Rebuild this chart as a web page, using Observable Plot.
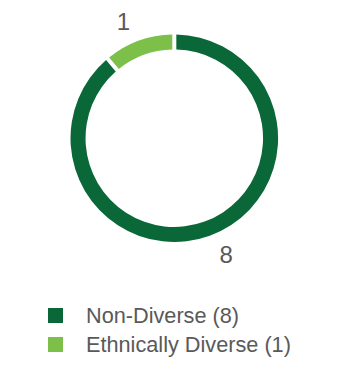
<!DOCTYPE html>
<html>
<head>
<meta charset="utf-8">
<script src="https://cdn.jsdelivr.net/npm/d3@7"></script>
<script src="https://cdn.jsdelivr.net/npm/@observablehq/plot@0.6"></script>
<style>
  html, body { margin: 0; padding: 0; background: #fff; }
  #wrap { position: relative; width: 346px; height: 380px; font-family: "Liberation Sans", Arial, sans-serif; }
  #chart { position: absolute; left: 0; top: 0; }
  .legend { position: absolute; left: 48px; top: 308px; }
  .item { display: flex; align-items: center; height: 15px; margin-bottom: 14px; }
  .sw { width: 15px; height: 15px; margin-right: 23px; flex: none; }
  .lab { font-size: 21.7px; color: #595959; white-space: nowrap; line-height: 15px; }
</style>
</head>
<body>
<div id="wrap">
  <div id="chart"></div>
  <div class="legend" id="legend"></div>
</div>
<script>
const categories = ["Non-Diverse", "Ethnically Diverse"];
const values = [8, 1];
const colors = ["#0a6838", "#7cc04a"];
const legendLabels = ["Non-Diverse (8)", "Ethnically Diverse (1)"];

const data = categories.map((c, i) => ({category: c, value: values[i]}));
const arcs = d3.pie().sort(null).value(d => d.value)(data);

const outerR = 1;
const innerR = 0.855;
const labelR = 1.23;
const labelShift = -0.065; // radians
const padAngle = 0.042;

const labels = arcs.map(a => {
  const mid = (a.startAngle + a.endAngle) / 2 + labelShift;
  return {x: labelR * Math.sin(mid), y: labelR * Math.cos(mid), text: String(a.data.value)};
});

function ring(index, scales) {
  const cx = scales.x(0), cy = scales.y(0);
  const R = Math.abs(scales.x(outerR) - cx);
  const r = Math.abs(scales.x(innerR) - cx);
  const arc = d3.arc().innerRadius(r).outerRadius(R).padAngle(padAngle).padRadius((R + r) / 2);
  const g = d3.create("svg:g").attr("transform", `translate(${cx},${cy})`);
  g.selectAll("path").data(arcs).join("path")
    .attr("d", arc)
    .attr("fill", d => scales.color(d.data.category));
  return g.node();
}

const plot = Plot.plot({
  width: 346,
  height: 290,
  margin: 0,
  x: {domain: [-1, 1], range: [70.5, 278.1], axis: null},
  y: {domain: [-1, 1], range: [241.8, 34.6], axis: null},
  color: {domain: categories, range: colors},
  style: {background: "transparent", fontFamily: "Liberation Sans, Arial, sans-serif"},
  marks: [
    ring,
    Plot.text(labels, {x: "x", y: "y", text: "text", fontSize: 24, fill: "#595959"})
  ]
});
document.getElementById("chart").appendChild(plot);

const legend = document.getElementById("legend");
categories.forEach((c, i) => {
  const item = document.createElement("div");
  item.className = "item";
  const sw = document.createElement("div");
  sw.className = "sw";
  sw.style.background = colors[i];
  const lab = document.createElement("div");
  lab.className = "lab";
  lab.textContent = legendLabels[i];
  item.appendChild(sw);
  item.appendChild(lab);
  legend.appendChild(item);
});
</script>
</body>
</html>
